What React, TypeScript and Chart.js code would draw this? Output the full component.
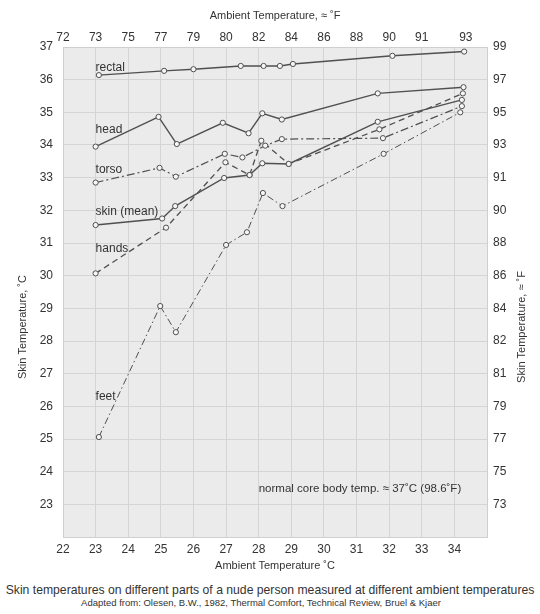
import React, { useEffect, useRef } from "react";
import { Chart, registerables } from "chart.js";

Chart.register(...registerables);

// ---------- data ----------
const xTicksC = [22, 23, 24, 25, 26, 27, 28, 29, 30, 31, 32, 33, 34, 35];
const yTicksC = [22, 23, 24, 25, 26, 27, 28, 29, 30, 31, 32, 33, 34, 35, 36, 37];
const topTickC = [22, 23, 24, 25, 26, 27, 28, 29, 30, 31, 32, 33, 34.35];
const topTickF = ["72", "73", "75", "77", "79", "80", "82", "84", "86", "88", "90", "91", "93"];
const rightTickF = ["", "73", "75", "77", "79", "81", "82", "84", "86", "88", "90", "91", "93", "95", "97", "99"];

const rectalX = [23.1, 25.1, 26.0, 27.45, 28.15, 28.65, 29.05, 32.1, 34.3];
const rectalY = [36.14, 36.27, 36.32, 36.42, 36.42, 36.42, 36.48, 36.73, 36.86];

const headX = [23.0, 24.93, 25.49, 26.9, 27.69, 28.11, 28.71, 31.65, 34.28];
const headY = [33.95, 34.86, 34.03, 34.68, 34.36, 34.97, 34.78, 35.58, 35.77];

const torsoX = [23.0, 24.96, 25.46, 26.96, 27.5, 28.2, 28.71, 31.81, 34.23];
const torsoY = [32.85, 33.3, 33.03, 33.73, 33.62, 33.98, 34.18, 34.21, 35.19];

const skinX = [23.0, 25.04, 25.44, 26.94, 27.72, 28.11, 28.92, 31.65, 34.23];
const skinY = [31.55, 31.75, 32.13, 32.99, 33.08, 33.44, 33.42, 34.71, 35.38];

const handsX = [23.0, 25.16, 26.98, 27.72, 28.08, 28.92, 31.7, 34.26];
const handsY = [30.07, 31.47, 33.47, 33.08, 34.13, 33.42, 34.48, 35.58];

const feetX = [23.1, 24.98, 25.46, 27.0, 27.64, 28.13, 28.73, 31.83, 34.18];
const feetY = [25.06, 29.07, 28.27, 30.94, 31.33, 32.53, 32.13, 33.73, 35.0];

const seriesNames = ["rectal", "head", "torso", "skin (mean)", "hands", "feet"];
const labelX = [23.0, 23.0, 23.0, 23.0, 23.0, 23.0];
const labelY = [36.36, 34.46, 33.25, 31.95, 30.82, 26.3];

const noteText = "normal core body temp. ≈ 37˚C (98.6˚F)";
const noteX = 28.0;
const noteY = 23.47;

const FONT = '"Liberation Sans", Arial, Helvetica, sans-serif';
const TEXT = "#333333";
const LINE = "#505050";

const pts = (xs: number[], ys: number[]) => xs.map((x, i) => ({ x, y: ys[i] }));

export default function App() {
  const ref = useRef<HTMLCanvasElement | null>(null);

  useEffect(() => {
    if (!ref.current) return;

    const bgPlugin = {
      id: "bg",
      beforeDraw(chart: any) {
        const { ctx, chartArea } = chart;
        ctx.save();
        ctx.fillStyle = "#ebebeb";
        ctx.fillRect(chartArea.left, chartArea.top, chartArea.right - chartArea.left, chartArea.bottom - chartArea.top);
        ctx.restore();
      },
    };

    const textPlugin = {
      id: "texts",
      afterDatasetsDraw(chart: any) {
        const { ctx, chartArea, scales } = chart;
        ctx.save();
        ctx.fillStyle = TEXT;
        ctx.textBaseline = "middle";
        ctx.textAlign = "left";
        ctx.font = `12px ${FONT}`;
        seriesNames.forEach((n, i) => {
          ctx.fillText(n, scales.x.getPixelForValue(labelX[i]), scales.y.getPixelForValue(labelY[i]));
        });
        ctx.font = `11.5px ${FONT}`;
        ctx.fillText(noteText, scales.x.getPixelForValue(noteX), scales.y.getPixelForValue(noteY));
        // side titles (both read bottom-to-top)
        ctx.font = `11px ${FONT}`;
        ctx.textAlign = "center";
        const cy = 327;
        ctx.save();
        ctx.translate(23, cy);
        ctx.rotate(-Math.PI / 2);
        ctx.fillText("Skin Temperature, ˚C", 0, 0);
        ctx.restore();
        ctx.save();
        ctx.translate(chartArea.right + 35, cy);
        ctx.rotate(-Math.PI / 2);
        ctx.fillText("Skin Temperature, ≈ ˚F", 0, 0);
        ctx.restore();
        ctx.restore();
      },
    };

    const ds = (
      label: string,
      xs: number[],
      ys: number[],
      dash: number[],
      width: number
    ) => ({
      label,
      data: pts(xs, ys),
      showLine: true,
      borderColor: LINE,
      borderWidth: width,
      borderDash: dash,
      pointRadius: 2.6,
      pointBorderWidth: 1,
      pointBorderColor: LINE,
      pointBackgroundColor: "#f6f6f6",
      fill: false,
      tension: 0,
    });

    const tickFont = { family: FONT, size: 12 };
    const titleFont = { family: FONT, size: 11 };

    const chart = new Chart(ref.current, {
      type: "scatter",
      data: {
        datasets: [
          ds("rectal", rectalX, rectalY, [], 1.4),
          ds("head", headX, headY, [], 1.4),
          ds("torso", torsoX, torsoY, [8, 3, 2, 3], 1.2),
          ds("skin (mean)", skinX, skinY, [], 1.4),
          ds("hands", handsX, handsY, [6, 4], 1.3),
          ds("feet", feetX, feetY, [7, 3, 1.5, 3], 1.0),
        ],
      },
      options: {
        animation: false,
        responsive: false,
        devicePixelRatio: 1,
        layout: { padding: 0 },
        plugins: {
          legend: { display: false },
          tooltip: { enabled: false },
        },
        scales: {
          x: {
            type: "linear",
            position: "bottom",
            min: 22,
            max: 35,
            afterBuildTicks: (s: any) => {
              s.ticks = xTicksC.map((v) => ({ value: v }));
            },
            afterFit: (s: any) => {
              s.height = 38;
            },
            ticks: {
              autoSkip: false,
              maxRotation: 0,
              padding: 5,
              color: TEXT,
              font: tickFont,
              callback: (v: any) => (Number(v) <= 34 ? String(v) : ""),
            },
            grid: { color: "#d4d4d4", drawTicks: false, lineWidth: 1 },
            border: { display: true, color: "#cfcfcf" },
            title: {
              display: true,
              text: "Ambient Temperature ˚C",
              color: TEXT,
              font: titleFont,
              padding: { top: 0, bottom: 2 },
            },
          },
          x2: {
            type: "linear",
            position: "top",
            min: 22,
            max: 35,
            afterBuildTicks: (s: any) => {
              s.ticks = topTickC.map((v) => ({ value: v }));
            },
            afterFit: (s: any) => {
              s.height = 47;
            },
            ticks: {
              autoSkip: false,
              maxRotation: 0,
              padding: 2,
              color: TEXT,
              font: tickFont,
              callback: (_v: any, i: number) => topTickF[i] ?? "",
            },
            grid: { display: false, drawTicks: false },
            border: { display: true, color: "#cfcfcf" },
            title: {
              display: true,
              text: "Ambient Temperature, ≈ ˚F",
              color: TEXT,
              font: titleFont,
              padding: { top: 9, bottom: 0 },
            },
          },
          y: {
            type: "linear",
            position: "left",
            min: 22,
            max: 37,
            afterBuildTicks: (s: any) => {
              s.ticks = yTicksC.map((v) => ({ value: v }));
            },
            afterFit: (s: any) => {
              s.width = 63;
            },
            ticks: {
              autoSkip: false,
              padding: 10,
              color: TEXT,
              font: tickFont,
              callback: (v: any) => (Number(v) >= 23 ? String(v) : ""),
            },
            grid: { color: "#d4d4d4", drawTicks: false, lineWidth: 1 },
            border: { display: true, color: "#cfcfcf" },
          },
          y2: {
            type: "linear",
            position: "right",
            min: 22,
            max: 37,
            afterBuildTicks: (s: any) => {
              s.ticks = yTicksC.map((v) => ({ value: v }));
            },
            afterFit: (s: any) => {
              s.width = 53;
            },
            ticks: {
              autoSkip: false,
              padding: 6,
              color: TEXT,
              font: tickFont,
              callback: (_v: any, i: number) => rightTickF[i] ?? "",
            },
            grid: { display: false, drawTicks: false },
            border: { display: true, color: "#cfcfcf" },
          },
        },
      } as any,
      plugins: [bgPlugin, textPlugin],
    });

    return () => chart.destroy();
  }, []);

  return (
    <div
      style={{
        position: "absolute",
        left: 0,
        top: 0,
        width: 540,
        height: 614,
        background: "#ffffff",
        fontFamily: FONT,
        color: TEXT,
      }}
    >
      <canvas ref={ref} width={540} height={575} style={{ display: "block" }} />
      <div
        style={{
          position: "absolute",
          left: 0,
          top: 583,
          width: 540,
          textAlign: "center",
          fontSize: 12.2,
          lineHeight: "14px",
          whiteSpace: "nowrap",
        }}
      >
        Skin temperatures on different parts of a nude person measured at different ambient temperatures
      </div>
      <div
        style={{
          position: "absolute",
          left: 0,
          top: 597,
          width: 522,
          textAlign: "center",
          fontSize: 9.5,
          lineHeight: "12px",
          whiteSpace: "nowrap",
        }}
      >
        Adapted from: Olesen, B.W., 1982, Thermal Comfort, Technical Review, Bruel &amp; Kjaer
      </div>
    </div>
  );
}
